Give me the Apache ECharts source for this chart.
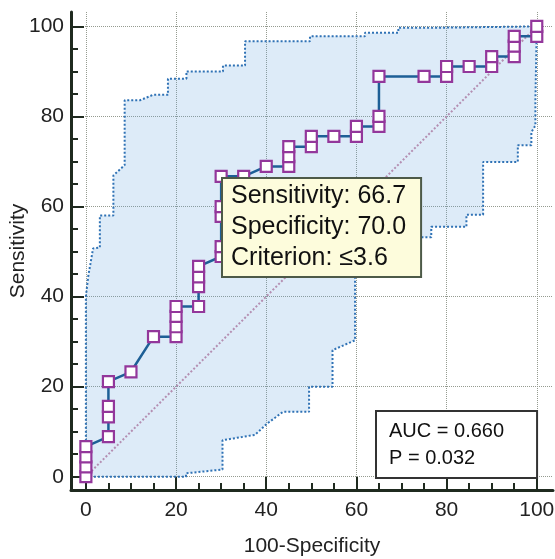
<!DOCTYPE html>
<html>
<head>
<meta charset="utf-8">
<script src="https://cdn.jsdelivr.net/npm/echarts@6/dist/echarts.min.js"></script>
<style>
  html, body { margin: 0; padding: 0; background: #fff; }
  #chart { width: 555px; height: 559px; }
</style>
</head>
<body>
<div id="chart"></div>
<script>
// ROC points: [100-Specificity, Sensitivity]
const rocPoints = [
  [0, 0], [0, 2.2], [0, 4.4], [0, 6.7],
  [5, 8.9], [5, 13.3], [5, 15.6], [5, 21.1],
  [10, 23.3], [15, 31.1],
  [20, 31.1], [20, 33.3], [20, 35.6], [20, 37.8],
  [25, 37.8], [25, 42.2], [25, 44.4], [25, 46.7],
  [30, 48.9], [30, 51.1], [30, 57.8], [30, 60], [30, 66.7],
  [35, 66.7], [40, 68.9],
  [45, 68.9], [45, 71.1], [45, 73.3],
  [50, 73.3], [50, 75.6], [55, 75.6],
  [60, 75.6], [60, 77.8],
  [65, 77.8], [65, 80], [65, 88.9],
  [75, 88.9], [80, 88.9], [80, 91.1], [85, 91.1],
  [90, 91.1], [90, 93.3],
  [95, 93.3], [95, 95.6], [95, 97.8],
  [100, 97.8], [100, 100]
];

// upper 95% confidence bound
const upperCI = [
  [0, 0], [0, 40], [0.5, 44.4], [1.6, 50.7], [3.1, 50.9], [3.1, 58], [6.1, 58],
  [6.1, 66.9], [8.6, 69.2], [8.6, 83.6], [12, 83.6], [14.9, 84.8], [18.2, 84.8],
  [18.2, 88.4], [22.3, 88.4], [22.3, 90], [30.4, 90], [30.4, 91.3], [35.3, 91.3],
  [35.3, 96.7], [49.7, 96.7], [49.7, 97.8], [61.9, 97.8], [61.9, 98.6], [69.3, 98.6],
  [69.3, 99.7], [77.4, 99.7], [77.4, 100], [100, 100]
];

// lower 95% confidence bound
const lowerCI = [
  [0, 0], [22.2, 0], [22.2, 0.75], [30.3, 1.6], [30.3, 8.1], [32.7, 8.5], [37.5, 9.3],
  [40.2, 11.8], [43.7, 14.4], [49.5, 14.4], [49.5, 20], [54.7, 20], [54.7, 28.1],
  [59.7, 30.3], [59.7, 53.2], [76.6, 53.2], [76.6, 55.5], [84.4, 55.5], [84.4, 58.2],
  [88.1, 58.2], [88.1, 69.9], [95.8, 69.9], [95.8, 73.6], [98.8, 73.6], [98.8, 76.5],
  [99.7, 78], [99.7, 83.6], [100, 100]
];

const diagonal = [[0, 0], [100, 100]];

const majorTicks = [0, 20, 40, 60, 80, 100];
const minorTicks = [5, 10, 15, 25, 30, 35, 45, 50, 55, 65, 70, 75, 85, 90, 95];

const fontFamily = '"Liberation Sans", Arial, sans-serif';
const axisColor = '#1f2a1f';
const gridLine = { show: true, lineStyle: { type: 'dotted', color: '#959b90', width: 1 } };

function mainAxis(min, max, name, nameGap, labelMargin) {
  return {
    type: 'value', min: min, max: max,
    name: name, nameLocation: 'middle', nameGap: nameGap, nameMoveOverlap: false,
    nameTextStyle: { fontSize: 21, color: '#222', fontFamily: fontFamily },
    axisLine: { show: true, onZero: false, lineStyle: { color: axisColor, width: 3 } },
    axisTick: { show: true, inside: true, length: 13, customValues: majorTicks,
      lineStyle: { color: axisColor, width: 2 } },
    axisLabel: { customValues: majorTicks, fontSize: 21, color: '#222',
      fontFamily: fontFamily, margin: labelMargin },
    splitLine: gridLine
  };
}

function minorAxis(min, max, position) {
  return {
    type: 'value', min: min, max: max, position: position,
    axisLine: { show: false, onZero: false },
    axisTick: { show: true, inside: true, length: 7, customValues: minorTicks,
      lineStyle: { color: axisColor, width: 2 } },
    axisLabel: { show: false },
    splitLine: { show: false }
  };
}

const chart = echarts.init(document.getElementById('chart'));

chart.setOption({
  animation: false,
  backgroundColor: '#fff',
  grid: { left: 71, right: 2, top: 12, bottom: 69, containLabel: false, outerBoundsMode: 'none' },
  xAxis: [
    Object.assign(mainAxis(-3.3, 103.6, '100-Specificity', 46, 10), { position: 'bottom' }),
    minorAxis(-3.3, 103.6, 'bottom')
  ],
  yAxis: [
    Object.assign(mainAxis(-2.95, 103.2, 'Sensitivity', 42, 7), { position: 'left' }),
    minorAxis(-2.95, 103.2, 'left')
  ],
  series: [
    {
      type: 'custom',
      silent: true,
      data: [[0, 0]],
      renderItem: function (params, api) {
        const pts = upperCI.concat(lowerCI.slice().reverse()).map(p => api.coord(p));
        return {
          type: 'polygon',
          shape: { points: pts },
          style: { fill: 'rgba(95,160,220,0.21)' }
        };
      },
      z: 1
    },
    {
      type: 'line', data: upperCI, showSymbol: false, silent: true,
      lineStyle: { color: '#2f72b5', width: 2, type: 'dotted' }, z: 2
    },
    {
      type: 'line', data: lowerCI, showSymbol: false, silent: true,
      lineStyle: { color: '#2f72b5', width: 2, type: 'dotted' }, z: 2
    },
    {
      type: 'line', data: diagonal, showSymbol: false, silent: true,
      lineStyle: { color: '#b48fb2', width: 2, type: 'dotted' }, z: 2
    },
    {
      type: 'line', data: rocPoints, silent: true,
      symbol: 'rect', symbolSize: 11, showSymbol: true,
      lineStyle: { color: '#1d5f96', width: 2.5 },
      itemStyle: { color: '#fff', borderColor: '#93379b', borderWidth: 2.2 },
      z: 3
    }
  ],
  graphic: [
    {
      type: 'text', left: 221, top: 177, z: 100,
      style: {
        text: 'Sensitivity: 66.7\nSpecificity: 70.0\nCriterion: \u22643.6',
        font: '25px "Liberation Sans", Arial, sans-serif',
        lineHeight: 31,
        fill: '#111',
        backgroundColor: '#fdfcdc',
        borderColor: '#4d5a48',
        borderWidth: 2,
        padding: [2, 14, 2, 8]
      }
    },
    {
      type: 'text', left: 375, top: 410, z: 100,
      style: {
        text: 'AUC = 0.660\nP = 0.032',
        font: '20px "Liberation Sans", Arial, sans-serif',
        lineHeight: 27,
        fill: '#111',
        backgroundColor: '#fff',
        borderColor: '#333',
        borderWidth: 2,
        padding: [6, 32, 5, 12]
      }
    }
  ]
});
</script>
</body>
</html>
